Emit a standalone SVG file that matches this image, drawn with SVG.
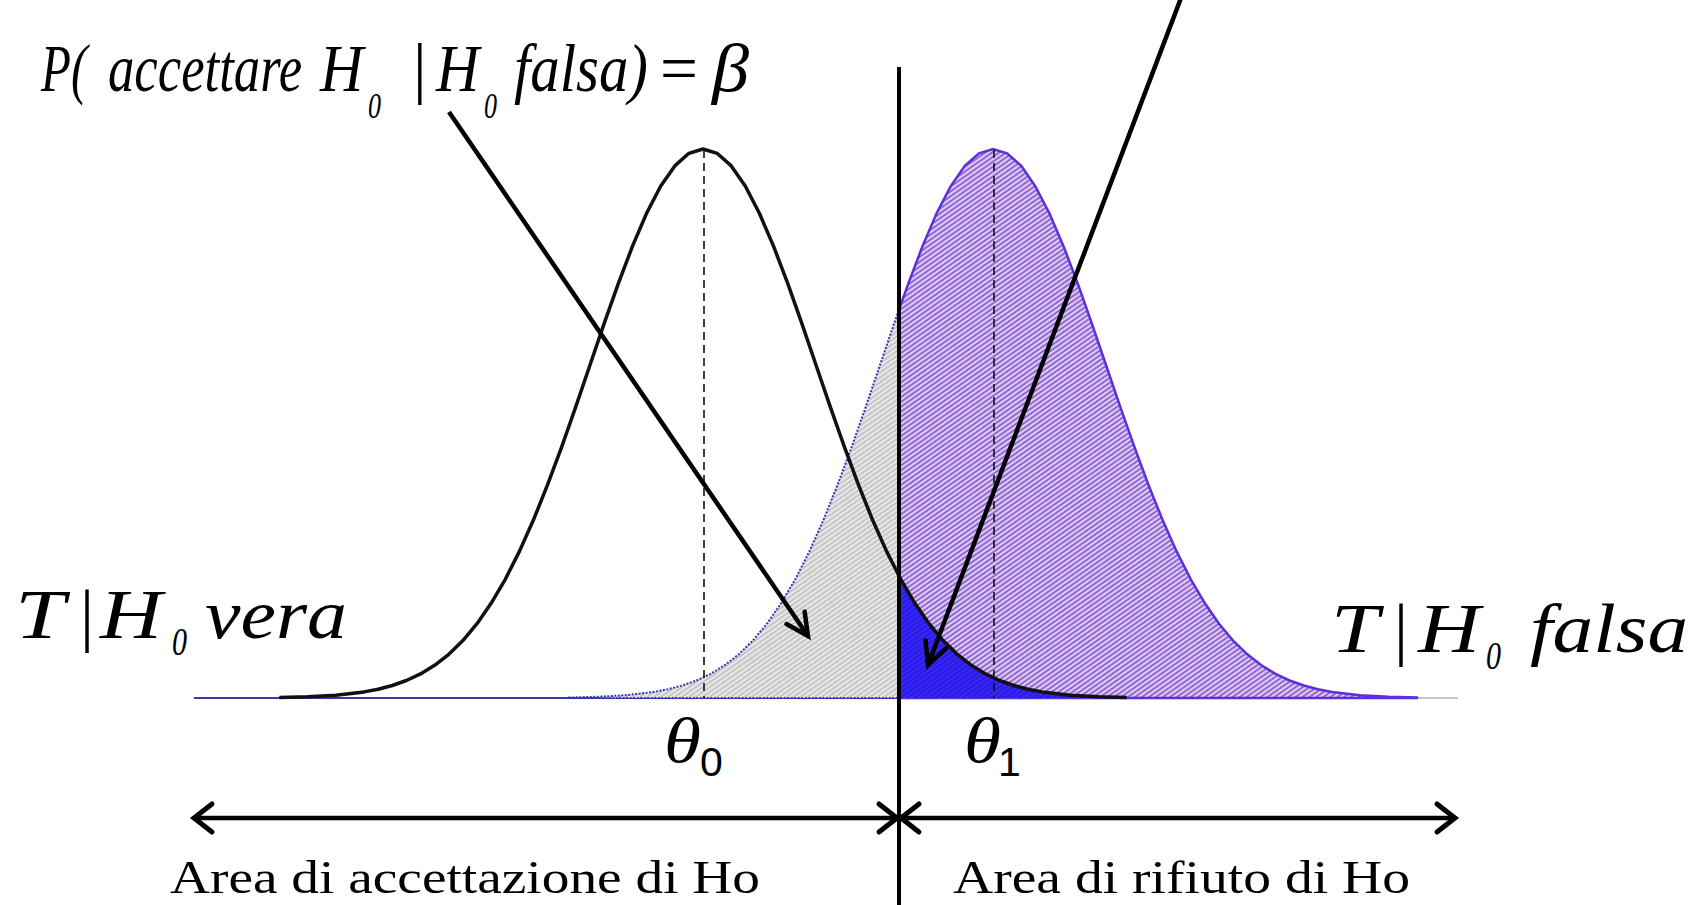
<svg xmlns="http://www.w3.org/2000/svg" width="1706" height="905" viewBox="0 0 1706 905">
<style>
.it{font-family:"Liberation Serif","Times New Roman",serif;font-style:italic;fill:#000}
.up{font-family:"Liberation Serif","Times New Roman",serif;fill:#000}
.sans{font-family:"Liberation Sans",Arial,sans-serif;fill:#000}
.area{font-family:"Liberation Serif","Times New Roman",serif;font-size:47px;fill:#000}
.arrow{fill:none;stroke:#000;stroke-width:4.5}
.dash{fill:none;stroke:#111;stroke-width:1.6;stroke-dasharray:8 5}
</style>
<defs>
<pattern id="hatchGray" patternUnits="userSpaceOnUse" width="4" height="4" patternTransform="rotate(-35)">
<rect width="4" height="4" fill="#e8e8e8"/>
<line x1="0" y1="2" x2="4" y2="2" stroke="#b8b8b8" stroke-width="1.4"/>
</pattern>
<pattern id="hatchPurple" patternUnits="userSpaceOnUse" width="4" height="4" patternTransform="rotate(-35)">
<rect width="4" height="4" fill="#ddccf3"/>
<line x1="0" y1="2" x2="4" y2="2" stroke="#9063d2" stroke-width="1.9"/>
</pattern>
<pattern id="hatchBlue" patternUnits="userSpaceOnUse" width="4" height="4" patternTransform="rotate(-35)">
<rect width="4" height="4" fill="#2a18f0"/>
<line x1="0" y1="2" x2="4" y2="2" stroke="#3d30e8" stroke-width="1.5"/>
</pattern>
<clipPath id="leftClip"><rect x="0" y="0" width="899" height="905"/></clipPath>
<clipPath id="rightClip"><rect x="899" y="0" width="807" height="905"/></clipPath>
<path id="pdfFalsa" d="M569.3,698 L569.3,697.5 L597.5,696.8 L625.8,695.2 L654,691.9 L668.1,689.2 L682.3,685.5 L696.4,680.5 L710.5,673.9 L724.6,665.3 L738.8,654.3 L752.9,640.6 L767,623.7 L781.1,603.3 L795.3,579.3 L809.4,551.4 L823.5,519.8 L837.6,484.7 L851.8,446.7 L865.9,406.4 L880,365 L894.1,323.6 L908.3,283.6 L922.4,246.4 L936.5,213.5 L950.6,186.3 L964.8,165.9 L978.9,153.3 L993,149 L1007.1,153.3 L1021.3,165.9 L1035.4,186.3 L1049.5,213.5 L1063.6,246.4 L1077.8,283.6 L1091.9,323.6 L1106,365 L1120.1,406.4 L1134.3,446.7 L1148.4,484.7 L1162.5,519.8 L1176.6,551.4 L1190.8,579.3 L1204.9,603.3 L1219,623.7 L1233.1,640.6 L1247.3,654.3 L1261.4,665.3 L1275.5,673.9 L1289.6,680.5 L1303.8,685.5 L1317.9,689.2 L1332,691.9 L1360.3,695.2 L1388.5,696.8 L1416.8,697.5 L1416.8,698 Z"/>
<path id="pdfVera" d="M279.3,698 L279.3,697.5 L307.5,696.8 L335.8,695.2 L364,691.9 L378.1,689.2 L392.3,685.5 L406.4,680.5 L420.5,673.9 L434.6,665.3 L448.8,654.3 L462.9,640.6 L477,623.7 L491.1,603.3 L505.3,579.3 L519.4,551.4 L533.5,519.8 L547.6,484.7 L561.8,446.7 L575.9,406.4 L590,365 L604.1,323.6 L618.3,283.6 L632.4,246.4 L646.5,213.5 L660.6,186.3 L674.8,165.9 L688.9,153.3 L703,149 L717.1,153.3 L731.3,165.9 L745.4,186.3 L759.5,213.5 L773.6,246.4 L787.8,283.6 L801.9,323.6 L816,365 L830.1,406.4 L844.3,446.7 L858.4,484.7 L872.5,519.8 L886.6,551.4 L900.8,579.3 L914.9,603.3 L929,623.7 L943.1,640.6 L957.3,654.3 L971.4,665.3 L985.5,673.9 L999.6,680.5 L1013.8,685.5 L1027.9,689.2 L1042,691.9 L1070.3,695.2 L1098.5,696.8 L1126.8,697.5 L1126.8,698 Z"/>
<marker id="headDiag" viewBox="0 0 26 26" refX="23" refY="13" markerWidth="26" markerHeight="26" markerUnits="userSpaceOnUse" orient="auto-start-reverse" overflow="visible">
<path d="M1,2 L23,13 L1,24" fill="none" stroke="#000" stroke-width="4.5" stroke-linecap="round"/>
</marker>
<marker id="headDim" viewBox="0 0 26 32" refX="22" refY="16" markerWidth="26" markerHeight="32" markerUnits="userSpaceOnUse" orient="auto-start-reverse" overflow="visible">
<path d="M4,2 L22,16 L4,30" fill="none" stroke="#000" stroke-width="5" stroke-linecap="round"/>
</marker>
</defs>

<rect width="1706" height="905" fill="#fff"/>

<g id="baseline">
<line x1="194" y1="698" x2="899" y2="698" stroke="#3a3aa8" stroke-width="2"/>
<line x1="899" y1="698" x2="1458" y2="698" stroke="#c4c4c4" stroke-width="2"/>
</g>

<g id="dist-h0-falsa">
<use href="#pdfFalsa" fill="url(#hatchGray)" clip-path="url(#leftClip)"/>
<use href="#pdfFalsa" fill="url(#hatchPurple)" clip-path="url(#rightClip)"/>
<use href="#pdfFalsa" fill="none" stroke="#3434b8" stroke-width="2" stroke-dasharray="2 1.5" clip-path="url(#leftClip)"/>
<use href="#pdfFalsa" fill="none" stroke="#5e2fdc" stroke-width="2.5" clip-path="url(#rightClip)"/>
</g>

<g id="beta-region">
<use href="#pdfVera" fill="url(#hatchBlue)" clip-path="url(#rightClip)"/>
</g>

<g id="dist-h0-vera">
<line class="dash" x1="704" y1="150" x2="704" y2="698"/>
<line class="dash" x1="994" y1="150" x2="994" y2="698"/>
<path d="M279.3,697.5 L307.5,696.8 L335.8,695.2 L364,691.9 L378.1,689.2 L392.3,685.5 L406.4,680.5 L420.5,673.9 L434.6,665.3 L448.8,654.3 L462.9,640.6 L477,623.7 L491.1,603.3 L505.3,579.3 L519.4,551.4 L533.5,519.8 L547.6,484.7 L561.8,446.7 L575.9,406.4 L590,365 L604.1,323.6 L618.3,283.6 L632.4,246.4 L646.5,213.5 L660.6,186.3 L674.8,165.9 L688.9,153.3 L703,149 L717.1,153.3 L731.3,165.9 L745.4,186.3 L759.5,213.5 L773.6,246.4 L787.8,283.6 L801.9,323.6 L816,365 L830.1,406.4 L844.3,446.7 L858.4,484.7 L872.5,519.8 L886.6,551.4 L900.8,579.3 L914.9,603.3 L929,623.7 L943.1,640.6 L957.3,654.3 L971.4,665.3 L985.5,673.9 L999.6,680.5 L1013.8,685.5 L1027.9,689.2 L1042,691.9 L1070.3,695.2 L1098.5,696.8 L1126.8,697.5" fill="none" stroke="#111" stroke-width="3.5" stroke-linejoin="round"/>
</g>

<g id="critical-value">
<line x1="899" y1="67" x2="899" y2="905" stroke="#000" stroke-width="4"/>
</g>

<g id="connectors">
<line class="arrow" x1="449" y1="112" x2="808" y2="636" marker-end="url(#headDiag)"/>
<line class="arrow" x1="1181" y1="-2" x2="928" y2="665" marker-end="url(#headDiag)"/>
<line class="arrow" x1="194" y1="818" x2="897" y2="818" marker-start="url(#headDim)" marker-end="url(#headDim)"/>
<line class="arrow" x1="901" y1="818" x2="1455" y2="818" marker-start="url(#headDim)" marker-end="url(#headDim)"/>
</g>

<g id="label-beta">
<text class="it" transform="translate(41,91) scale(0.72,1)" font-size="68">P(</text>
<text class="it" transform="translate(108,91) scale(0.775,1)" font-size="68">accettare</text>
<text class="it" transform="translate(320,91) scale(0.88,1)" font-size="68">H</text>
<text class="it" x="368" y="118" font-size="36" textLength="13" lengthAdjust="spacingAndGlyphs">0</text>
<text class="up" x="413" y="91" font-size="68">|</text>
<text class="it" transform="translate(436,91) scale(0.88,1)" font-size="68">H</text>
<text class="it" x="484" y="118" font-size="36" textLength="13" lengthAdjust="spacingAndGlyphs">0</text>
<text class="it" transform="translate(514,91) scale(0.865,1)" font-size="68">falsa)</text>
<text class="up" x="660" y="91" font-size="68" textLength="38" lengthAdjust="spacingAndGlyphs">=</text>
<text class="it" x="712" y="91" font-size="68" textLength="37" lengthAdjust="spacingAndGlyphs">β</text>
</g>

<g id="label-h0-vera">
<text class="it" x="15" y="638" font-size="70" textLength="50" lengthAdjust="spacingAndGlyphs">T</text>
<text class="up" x="80" y="638" font-size="70">|</text>
<text class="it" x="100" y="638" font-size="70" textLength="62" lengthAdjust="spacingAndGlyphs">H</text>
<text class="it" x="172" y="655" font-size="40" textLength="15" lengthAdjust="spacingAndGlyphs">0</text>
<text class="it" x="205" y="638" font-size="70" textLength="142" lengthAdjust="spacingAndGlyphs">vera</text>
</g>

<g id="label-h0-falsa">
<text class="it" x="1331" y="652" font-size="70" textLength="48" lengthAdjust="spacingAndGlyphs">T</text>
<text class="up" x="1394" y="652" font-size="70">|</text>
<text class="it" x="1418" y="652" font-size="70" textLength="62" lengthAdjust="spacingAndGlyphs">H</text>
<text class="it" x="1486" y="669" font-size="40" textLength="15" lengthAdjust="spacingAndGlyphs">0</text>
<text class="it" x="1530" y="652" font-size="70" textLength="158" lengthAdjust="spacingAndGlyphs">falsa</text>
</g>

<g id="label-theta0">
<text class="it" x="664" y="762" font-size="64" textLength="37" lengthAdjust="spacingAndGlyphs">θ</text>
<text class="sans" x="700" y="776" font-size="41">0</text>
</g>
<g id="label-theta1">
<text class="it" x="964" y="762" font-size="64" textLength="37" lengthAdjust="spacingAndGlyphs">θ</text>
<text class="sans" x="998" y="776" font-size="41">1</text>
</g>

<g id="label-accettazione">
<text class="area" x="170" y="893" textLength="590" lengthAdjust="spacingAndGlyphs">Area di accettazione di Ho</text>
</g>
<g id="label-rifiuto">
<text class="area" x="953" y="893" textLength="457" lengthAdjust="spacingAndGlyphs">Area di rifiuto di Ho</text>
</g>
</svg>
